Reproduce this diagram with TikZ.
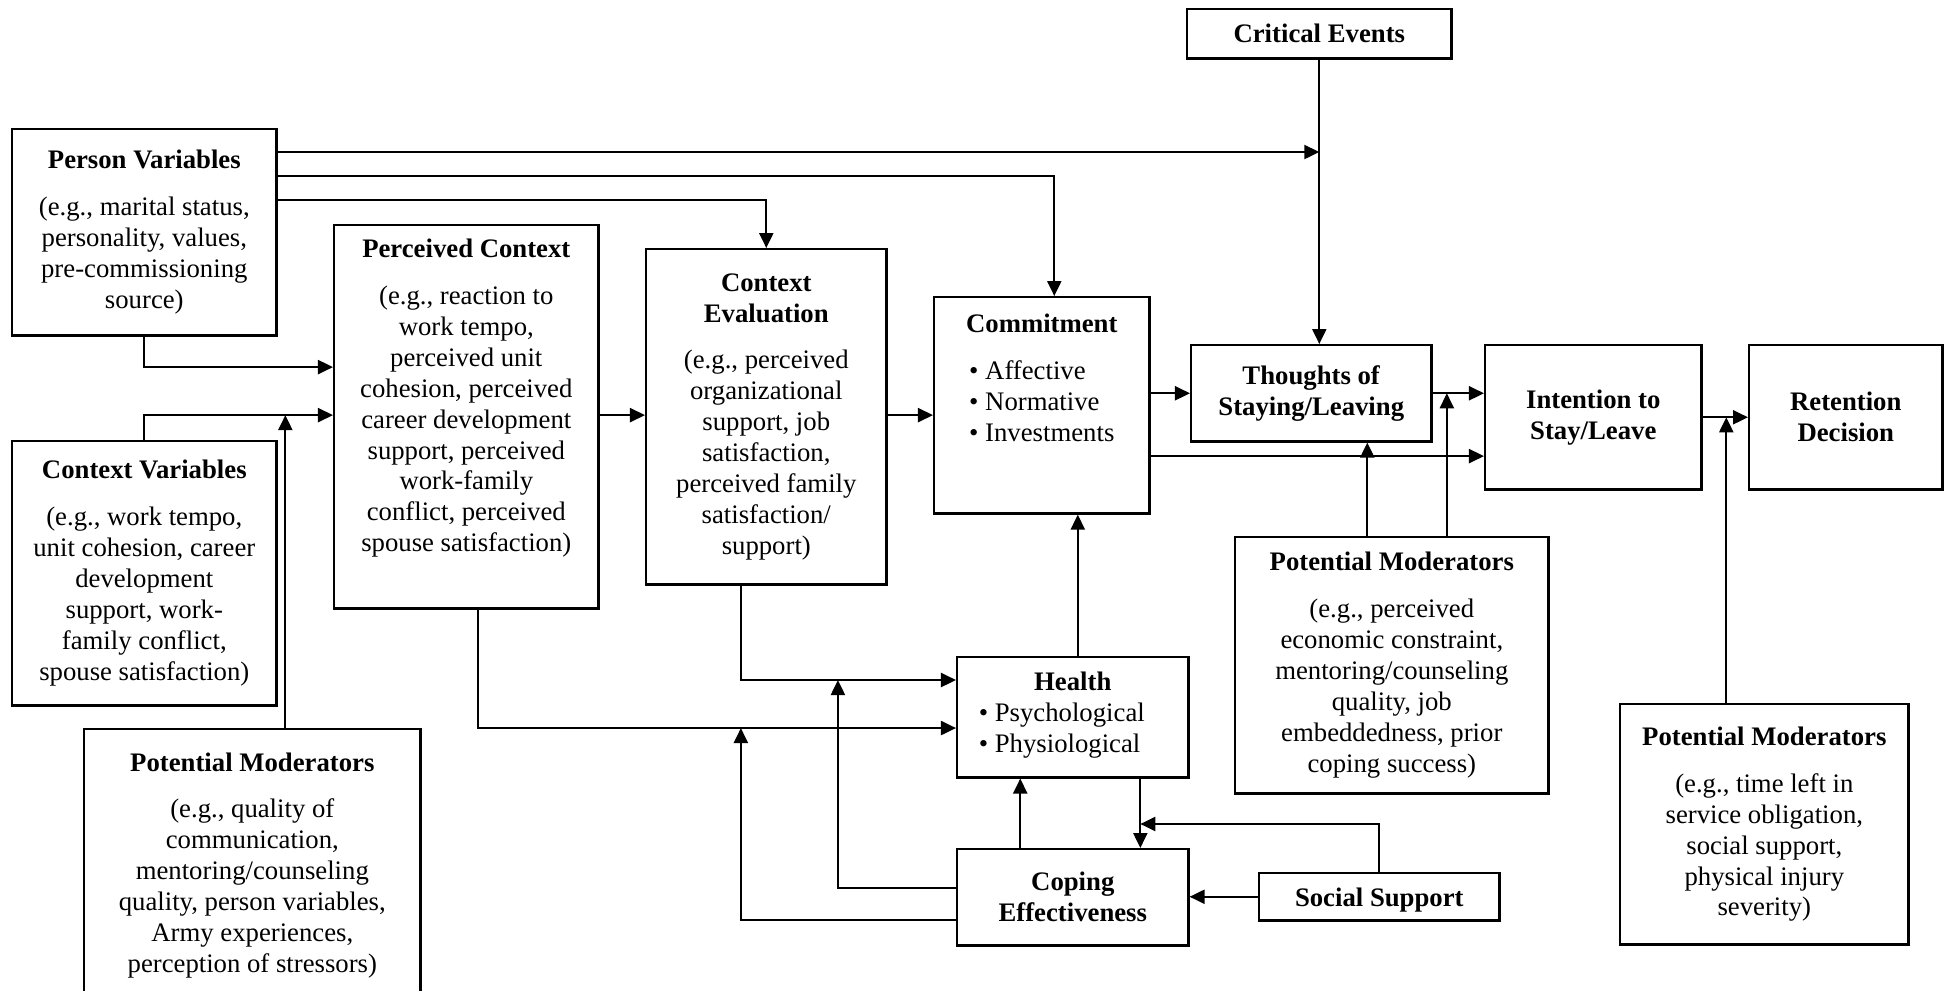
\documentclass[tikz,border=0pt]{standalone}
\usepackage{fontspec}
\setmainfont{Liberation Serif}
\usepackage{tikz}
\usetikzlibrary{arrows.meta}

\begin{document}
\begin{tikzpicture}[x=0.01cm, y=-0.01cm,
    box/.style={draw, line width=0.7pt, anchor=north west, align=center, inner sep=0pt,
      font=\fontsize{7.6}{8.8}\selectfont},
    arr/.style={-{Triangle[length=1.5mm,width=1.4mm]}, line width=0.6pt}]
    \useasboundingbox (0,0) rectangle (1944,990);
    \clip (0,0) rectangle (1944,990);

    \node[box, minimum width=2.64cm, minimum height=0.49cm] (crit) at (1186,8) {\textbf{Critical Events}};
    \node[box, minimum width=2.64cm, minimum height=2.06cm] (pv) at (11,128) {\textbf{Person Variables}\\[4.5pt](e.g., marital status,\\personality, values,\\pre-commissioning\\source)};
    \node[box, minimum width=2.64cm, minimum height=3.83cm] (pc) at (333,224) {\textbf{Perceived Context}\\[4.5pt](e.g., reaction to\\work tempo,\\perceived unit\\cohesion, perceived\\career development\\support, perceived\\work-family\\conflict, perceived\\spouse satisfaction)\\[3.4pt]\mbox{}};
    \node[box, minimum width=2.64cm, minimum height=2.64cm] (cv) at (11,440) {\textbf{Context Variables}\\[4.5pt](e.g., work tempo,\\unit cohesion, career\\development\\support, work-\\family conflict,\\spouse satisfaction)};
    \node[box, minimum width=3.36cm, minimum height=2.72cm] (pmL) at (83,728) {\textbf{Potential Moderators}\\[4.5pt](e.g., quality of\\communication,\\mentoring/counseling\\quality, person variables,\\Army experiences,\\perception of stressors)};
    \node[box, minimum width=2.40cm, minimum height=3.35cm] (eval) at (645,248) {\textbf{Context}\\\textbf{Evaluation}\\[4.5pt](e.g., perceived\\organizational\\support, job\\satisfaction,\\perceived family\\satisfaction/\\support)};
    \node[box, minimum width=2.15cm, minimum height=2.16cm] (com) at (933,296) {\textbf{Commitment}\\[4.5pt]\begin{tabular}[t]{@{}l@{}}\textbullet\ Affective\\\textbullet\ Normative\\\textbullet\ Investments\end{tabular}\hspace*{0.26cm}\\[12pt]\mbox{}};
    \node[box, minimum width=2.40cm, minimum height=0.96cm] (tho) at (1190,344) {\textbf{Thoughts of}\\\textbf{Staying/Leaving}};
    \node[box, minimum width=2.16cm, minimum height=1.44cm] (int) at (1484,344) {\textbf{Intention to}\\\textbf{Stay/Leave}};
    \node[box, minimum width=1.93cm, minimum height=1.44cm] (ret) at (1748,344) {\textbf{Retention}\\\textbf{Decision}};
    \node[box, minimum width=3.13cm, minimum height=2.56cm] (pmM) at (1234,536) {\textbf{Potential Moderators}\\[4.5pt](e.g., perceived\\economic constraint,\\mentoring/counseling\\quality, job\\embeddedness, prior\\coping success)};
    \node[box, minimum width=2.88cm, minimum height=2.40cm] (pmR) at (1619,703) {\textbf{Potential Moderators}\\[4.5pt](e.g., time left in\\service obligation,\\social support,\\physical injury\\severity)};
    \node[box, minimum width=2.31cm, minimum height=1.20cm] (hea) at (956,656) {\textbf{Health}\\\begin{tabular}[t]{@{}l@{}}\textbullet\ Psychological\\\textbullet\ Physiological\end{tabular}\hspace*{0.22cm}};
    \node[box, minimum width=2.31cm, minimum height=0.96cm] (cop) at (956,848) {\textbf{Coping}\\\textbf{Effectiveness}};
    \node[box, minimum width=2.40cm, minimum height=0.47cm, text depth=0pt] (soc) at (1258,872) {\textbf{Social Support}};

    \coordinate (pcA) at ([yshift=-1.43cm]pc.north west);
    \coordinate (pcB) at ([yshift=-1.91cm]pc.north west);
    \coordinate (eh) at ([yshift=-0.24cm]hea.north west);
    \coordinate (ph) at ([yshift=-0.72cm]hea.north west);
    \coordinate (hc) at ([xshift=0.675cm]cop.north);

    \draw[arr] (crit.south) -- (crit.south |- tho.north);
    \draw[arr] ([yshift=-0.24cm]pv.north east) -- ([yshift=-0.24cm]pv.north east -| crit.south);
    \draw[arr] ([yshift=-0.48cm]pv.north east) -| ([xshift=0.125cm]com.north);
    \draw[arr] ([yshift=-0.72cm]pv.north east) -| (eval.north);
    \draw[arr] (pv.south) |- (pcA);
    \draw[arr] (cv.north) |- (pcB);
    \draw[arr] ([xshift=0.33cm]pmL.north) -- ([xshift=0.33cm]pmL.north |- pcB);
    \draw[arr] (pcB -| pc.east) -- (pcB -| eval.west);
    \draw[arr] (pcB -| eval.east) -- (pcB -| com.west);
    \draw[arr] (tho.west -| com.east) -- (tho.west);
    \draw[arr] ([yshift=-1.6cm]com.north east) -- ([yshift=-1.6cm]com.north east -| int.west);
    \draw[arr] (tho.east) -- (tho.east -| int.west);
    \draw[arr] (int.east) -- (ret.west);
    \draw[arr] ([xshift=-0.245cm]pmM.north) -- ([xshift=-0.245cm]pmM.north |- tho.south);
    \draw[arr] ([xshift=0.55cm]pmM.north) -- ([xshift=0.55cm]pmM.north |- tho.east);
    \draw[arr] ([xshift=-0.38cm]pmR.north) -- ([xshift=-0.38cm]pmR.north |- int.east);
    \draw[arr] ([xshift=0.05cm]hea.north) -- ([xshift=0.05cm]hea.north |- com.south);
    \draw[arr] ([xshift=-0.25cm]eval.south) |- (eh);
    \draw[arr] ([xshift=0.12cm]pc.south) |- (ph);
    \draw[arr] ([yshift=-0.40cm]cop.north west) -| ([xshift=-1.18cm]eh);
    \draw[arr] ([yshift=-0.72cm]cop.north west) -| ([xshift=-2.15cm]ph);
    \draw[arr] ([xshift=-0.525cm]cop.north) -- ([xshift=-0.525cm]hea.south);
    \draw[arr] ([xshift=0.675cm]hea.south) -- (hc);
    \draw[arr] (soc.north) |- ([yshift=0.24cm]hc);
    \draw[arr] (soc.west) -- (soc.west -| cop.east);
\end{tikzpicture}
\end{document}
